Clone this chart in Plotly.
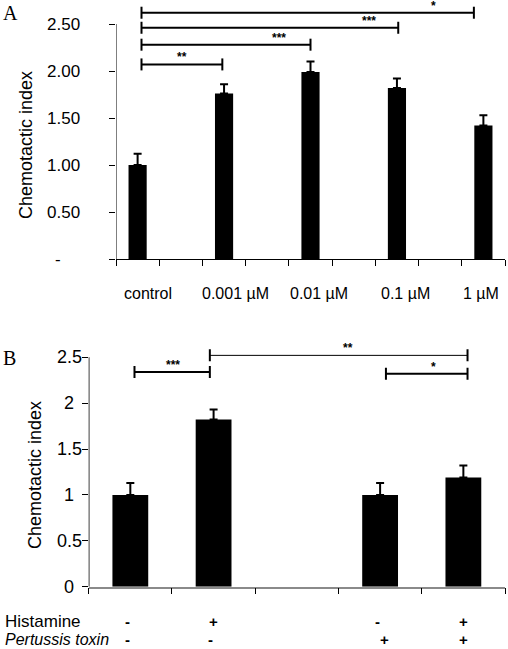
import plotly.graph_objects as go

# ---------------- data ----------------
# Panel A
cats_a = ["control", "0.001 µM", "0.01 µM", "0.1 µM", "1 µM"]
slots_a = [0, 2, 4, 6, 8]
means_a = [1.00, 1.76, 1.99, 1.82, 1.42]
errs_a = [0.12, 0.10, 0.11, 0.10, 0.11]
yticks_a = [0, 0.5, 1.0, 1.5, 2.0, 2.5]
yticktext_a = ["-", "0.50", "1.00", "1.50", "2.00", "2.50"]
sig_a_x0 = [0.09, 0.09, 0.09, 0.09]
sig_a_x1 = [1.96, 4.0, 6.03, 7.78]
sig_a_y = [2.07, 2.28, 2.46, 2.62]
sig_a_txt = ["**", "***", "***", "*"]
sig_a_lx = [1.02, 3.26, 5.35, 6.84]

# Panel B
slots_b = [0, 1, 3, 4]
means_b = [1.00, 1.82, 1.00, 1.19]
errs_b = [0.13, 0.11, 0.13, 0.13]
histamine = ["-", "+", "-", "+"]
pertussis = ["-", "-", "+", "+"]
yticks_b = [0, 0.5, 1, 1.5, 2, 2.5]
yticktext_b = ["0", "0.5", "1", "1.5", "2", "2.5"]
sig_b_x0 = [0.05, 0.955, 3.07]
sig_b_x1 = [0.955, 4.05, 4.05]
sig_b_y = [2.34, 2.52, 2.32]
sig_b_txt = ["***", "**", "*"]
sig_b_lx = [0.51, 2.62, 3.64]
sig_b_w = [2, 1, 2]

# ---------------- layout helpers ----------------
W, H = 508, 649
FONT = "Liberation Sans, Arial, sans-serif"
SERIF = "Liberation Serif, Times New Roman, serif"


def px(x):
    return x / W


def py(y):
    return 1 - y / H


fig = go.Figure()

fig.add_trace(go.Bar(
    x=slots_a, y=means_a, width=0.42, marker=dict(color="black", line=dict(width=0)),
    error_y=dict(type="data", array=errs_a, arrayminus=[0] * len(errs_a), symmetric=False,
                 color="black", thickness=2, width=4),
    xaxis="x", yaxis="y", showlegend=False, hoverinfo="skip"))

fig.add_trace(go.Bar(
    x=slots_b, y=means_b, width=0.43, marker=dict(color="black", line=dict(width=0)),
    error_y=dict(type="data", array=errs_b, arrayminus=[0] * len(errs_b), symmetric=False,
                 color="black", thickness=2, width=4),
    xaxis="x2", yaxis="y2", showlegend=False, hoverinfo="skip"))

top_a = 259 / 94.0
top_b = (586.7 - 335) / 91.8

fig.update_layout(
    width=W, height=H, margin=dict(l=0, r=0, t=0, b=0),
    paper_bgcolor="white", plot_bgcolor="white",
    xaxis=dict(domain=[px(116), px(505)], range=[-0.5, 8.5], anchor="y",
               showline=True, linecolor="black", linewidth=1, ticks="outside", ticklen=6,
               tickcolor="black", tickwidth=1, tickvals=[i - 0.5 for i in range(10)],
               showticklabels=False, showgrid=False, zeroline=False, fixedrange=True),
    yaxis=dict(domain=[py(259), 1], range=[0, top_a], anchor="x",
               showline=False, ticks="outside", ticklen=6, tickcolor="black", tickwidth=1,
               tickvals=yticks_a, showticklabels=False, showgrid=False, zeroline=False),
    xaxis2=dict(domain=[px(88.7), px(505)], range=[-0.5, 4.5], anchor="y2",
                showline=True, linecolor="#8a8a8a", linewidth=1.5, ticks="outside", ticklen=6,
                tickcolor="black", tickwidth=1, tickvals=[i - 0.5 for i in range(6)],
                showticklabels=False, showgrid=False, zeroline=False),
    yaxis2=dict(domain=[py(586.7), py(335)], range=[0, top_b], anchor="x2",
                showline=False, ticks="outside", ticklen=6, tickcolor="black", tickwidth=1,
                tickvals=yticks_b, showticklabels=False, showgrid=False, zeroline=False),
)

shapes = []
# y axis lines (only up to 2.5)
shapes.append(dict(type="line", xref="x", yref="y", x0=-0.5, x1=-0.5, y0=0, y1=yticks_a[-1],
                   line=dict(color="black", width=1)))
shapes.append(dict(type="line", xref="x2", yref="y2", x0=-0.5, x1=-0.5, y0=0, y1=yticks_b[-1],
                   line=dict(color="black", width=1.5)))

ann = []
# significance brackets A
cap_a = 6 / 94.0
for x0, x1, y, t, lx in zip(sig_a_x0, sig_a_x1, sig_a_y, sig_a_txt, sig_a_lx):
    shapes.append(dict(type="line", xref="x", yref="y", x0=x0, x1=x1, y0=y, y1=y,
                       line=dict(color="black", width=2)))
    for xx in (x0, x1):
        shapes.append(dict(type="line", xref="x", yref="y", x0=xx, x1=xx, y0=y - cap_a, y1=y + cap_a,
                           line=dict(color="black", width=2)))
    ann.append(dict(x=lx, y=y, xref="x", yref="y", text="<b>" + t + "</b>", showarrow=False,
                    yanchor="bottom", yshift=-2, font=dict(family=FONT, size=12, color="black")))

cap_b = 6 / 91.8
for x0, x1, y, t, lx, lw in zip(sig_b_x0, sig_b_x1, sig_b_y, sig_b_txt, sig_b_lx, sig_b_w):
    shapes.append(dict(type="line", xref="x2", yref="y2", x0=x0, x1=x1, y0=y, y1=y,
                       line=dict(color="black", width=lw)))
    for xx in (x0, x1):
        shapes.append(dict(type="line", xref="x2", yref="y2", x0=xx, x1=xx, y0=y - cap_b, y1=y + cap_b,
                           line=dict(color="black", width=2)))
    ann.append(dict(x=lx, y=y, xref="x2", yref="y2", text="<b>" + t + "</b>", showarrow=False,
                    yanchor="bottom", yshift=-2, font=dict(family=FONT, size=12, color="black")))

# panel letters
ann.append(dict(x=px(1), y=py(0), xref="paper", yref="paper", text="A", showarrow=False,
                xanchor="left", yanchor="top", font=dict(family=SERIF, size=20, color="black")))
ann.append(dict(x=px(1), y=py(345), xref="paper", yref="paper", text="B", showarrow=False,
                xanchor="left", yanchor="top", font=dict(family=SERIF, size=20, color="black")))

# y titles
ann.append(dict(x=px(26), y=py(145), xref="paper", yref="paper", text="Chemotactic index",
                textangle=-90, showarrow=False, xanchor="center", yanchor="middle",
                font=dict(family=FONT, size=18, color="black")))
ann.append(dict(x=px(35), y=py(475), xref="paper", yref="paper", text="Chemotactic index",
                textangle=-90, showarrow=False, xanchor="center", yanchor="middle",
                font=dict(family=FONT, size=18, color="black")))

# y tick labels A
for v, t in zip(yticks_a, yticktext_a):
    ann.append(dict(x=px(63), y=v, xref="paper", yref="y", text=t, showarrow=False,
                    xanchor="center", yanchor="middle", xshift=-5 if t == "-" else 0,
                    font=dict(family=FONT, size=17, color="black")))
# y tick labels B
for v, t in zip(yticks_b, yticktext_b):
    ann.append(dict(x=px(69), y=v, xref="paper", yref="y2", text=t, showarrow=False,
                    xanchor="center", yanchor="middle",
                    font=dict(family=FONT, size=18, color="black")))

# x category labels A
label_shift_a = [10, 11, 8, 9, -2]
for s, c, sh in zip(slots_a, cats_a, label_shift_a):
    ann.append(dict(x=s, y=py(293), xref="x", yref="paper", text=c, showarrow=False,
                    xanchor="center", yanchor="middle", xshift=sh,
                    font=dict(family=FONT, size=16, color="black")))

# treatment table B
ann.append(dict(x=px(3), y=py(621), xref="paper", yref="paper", text="Histamine", showarrow=False,
                xanchor="left", yanchor="middle", font=dict(family=FONT, size=17, color="black")))
ann.append(dict(x=px(3), y=0, xref="paper", yref="paper", text="<i>Pertussis toxin</i>",
                showarrow=False, xanchor="left", yanchor="bottom", yshift=-1,
                font=dict(family=FONT, size=16, color="black")))
for s, h, p in zip(slots_b, histamine, pertussis):
    ann.append(dict(x=s, y=py(621), xref="x2", yref="paper", text="<b>" + h + "</b>", showarrow=False,
                    xanchor="center", yanchor="middle", xshift=-3 if h == "-" else 0,
                    font=dict(family=FONT, size=15, color="black")))
    ann.append(dict(x=s, y=0, xref="x2", yref="paper", text="<b>" + p + "</b>", showarrow=False,
                    xanchor="center", yanchor="bottom", yshift=-1,
                    xshift=-3 if p == "-" else 4 if s == 3 else 0,
                    font=dict(family=FONT, size=15, color="black")))

fig.update_layout(shapes=shapes, annotations=ann)

fig.write_html("out.html", config={"displayModeBar": False},
               post_script="document.body.style.margin='0';document.body.style.padding='0';"
                           "document.documentElement.style.overflow='hidden';")
